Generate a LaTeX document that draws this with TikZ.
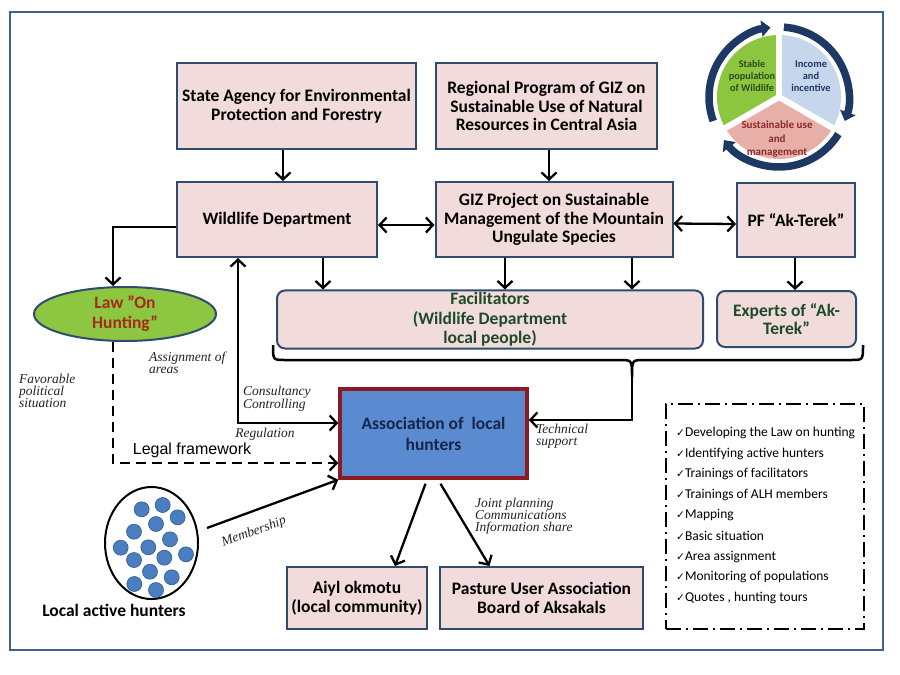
\documentclass[tikz,border=0pt]{standalone}
\usepackage{fontspec}
\newfontfamily\calfont{Carlito}
\newfontfamily\arialfont{Liberation Sans}
\newfontfamily\dvfont{DejaVu Sans}
\newfontfamily\handfont{Liberation Serif}
\usetikzlibrary{arrows.meta,shapes.geometric}
\definecolor{boxfill}{HTML}{F2DCDB}
\definecolor{boxline}{HTML}{2F4B70}
\definecolor{framecol}{HTML}{3F6189}
\definecolor{alhfill}{HTML}{5A8AD0}
\definecolor{alhline}{HTML}{8B1A22}
\definecolor{alhtext}{HTML}{16264A}
\definecolor{lawgreen}{HTML}{8DC641}
\definecolor{lawred}{HTML}{A52A1E}
\definecolor{facgreen}{HTML}{1E4A2C}
\definecolor{navy}{HTML}{1C3863}
\definecolor{cycgreen}{HTML}{8CC63F}
\definecolor{cycblue}{HTML}{C6D6EC}
\definecolor{cycpink}{HTML}{E8AFA8}
\definecolor{cycgtext}{HTML}{2B4A1B}
\definecolor{cycbtext}{HTML}{1F3864}
\definecolor{cycptext}{HTML}{8B2A2A}
\definecolor{dotblue}{HTML}{4A7EC0}
\definecolor{dotline}{HTML}{2E5A8E}
\definecolor{handgray}{HTML}{222222}
\newcommand\mytick{{\dvfont\fontsize{10.5}{10.5}\selectfont ✓}}
\begin{document}
\begin{tikzpicture}[x=1pt,y=-1pt,
  box/.style={draw=boxline,fill=boxfill,line width=2pt,align=center,
    font=\calfont\bfseries\fontsize{17.5}{18.5}\selectfont,inner sep=2pt},
  rbox/.style={box,rounded corners=8pt,text=facgreen},
  arr/.style={line width=2.3pt,-{Straight Barb[length=7pt,width=15pt]}},
  darr/.style={line width=2.3pt,{Straight Barb[length=7pt,width=15pt]}-{Straight Barb[length=7pt,width=15pt]}},
  hand/.style={font=\handfont\itshape\fontsize{13.5}{12}\selectfont,text=handgray,align=left,inner sep=0pt},
  item/.style={anchor=west,font=\calfont\fontsize{13.5}{14}\selectfont,inner sep=0pt},
  ring/.style={navy,line width=7.5pt,-{Triangle[length=9pt,width=16pt]}},
  dot/.style={circle,fill=dotblue,draw=dotline,line width=0.6pt,minimum size=15pt,inner sep=0pt}
]
\useasboundingbox (0,0) rectangle (900,675);
\fill[white] (0,0) rectangle (900,675);
\node[draw=framecol,line width=2pt,minimum width=873pt,minimum height=638pt] (frame) at (446.5,331) {};

% boxes
\node[box,minimum width=239pt,minimum height=86pt] (sa) at (296.5,106) {State Agency for Environmental\\Protection and Forestry};
\node[box,minimum width=221pt,minimum height=86pt] (rp) at (546.5,106) {Regional Program of GIZ on\\Sustainable Use of Natural\\Resources in Central Asia};
\node[box,minimum width=200pt,minimum height=75pt] (wd) at (277,219.5) {Wildlife Department};
\node[box,minimum width=237pt,minimum height=75pt] (giz) at (554,219.5) {GIZ Project on Sustainable\\Management of the Mountain\\Ungulate Species};
\node[box,minimum width=118pt,minimum height=74pt] (pf) at (796,220) {PF “Ak-Terek”};
\node[rbox,minimum width=426pt,minimum height=57pt,font=\calfont\bfseries\fontsize{17.5}{19.5}\selectfont] (fac) at (490,319.5) {Facilitators\\(Wildlife Department\\local people)};
\node[rbox,minimum width=139pt,minimum height=56pt] (exp) at (786.5,319) {Experts of “Ak-\\Terek”};
\node[box,draw=alhline,fill=alhfill,line width=3.5pt,text=alhtext,minimum width=187pt,minimum height=89pt,font=\calfont\bfseries\fontsize{17.5}{21}\selectfont] (alh) at (433.5,433.5) {Association of\ \ local\\hunters};
\node[ellipse,draw=boxline,fill=lawgreen,line width=2pt,minimum width=182pt,minimum height=54pt,align=center,text=lawred,inner sep=0pt,
  font=\calfont\bfseries\fontsize{17.5}{20}\selectfont] (law) at (125,314) {Law ”On\\Hunting”};
\node[ellipse,draw,line width=2pt,minimum width=93pt,minimum height=112pt] (hunt) at (151.5,543) {};
\node[box,minimum width=140pt,minimum height=62pt] (ao) at (357,598) {Aiyl okmotu\\(local community)};
\node[box,minimum width=203pt,minimum height=62pt] (pua) at (541.5,598) {Pasture User Association\\Board of Aksakals};
\node[font=\calfont\bfseries\fontsize{17.5}{18}\selectfont,inner sep=0pt] (lah) at (114,610) {Local active hunters};

% hunters dots
\foreach \px/\py [count=\i] in {141.7/509.3,162.7/505,177.7/517.3,156/524,134/531.7,170/539.3,120.7/547.7,148.3/547.3,186/554.3,134/560,164.3/557.7,150/571.7,171.7/577.3,134.3/584,156/590}
  \node[dot] (d\i) at (\px,\py) {};

% helper x positions
\coordinate (xa) at (283,0);
\coordinate (xb) at (549,0);
\coordinate (xf1) at (323,0);
\coordinate (xf2) at (505,0);
\coordinate (xf3) at (632,0);
\coordinate (xp) at (795,0);
\coordinate (xl) at (113,0);
\coordinate (xc) at (238,0);
\coordinate (bt) at (632,377);
\coordinate (ms) at (207,528);

% connectors
\draw[arr] (sa.south -| xa) -- (wd.north -| xa);
\draw[arr] (rp.south -| xb) -- (giz.north -| xb);
\draw[darr] ([yshift=-5.5pt]wd.east) -- ([yshift=-5.5pt]giz.west);
\draw[darr] ([yshift=-4pt]giz.east) -- ([yshift=-4pt]pf.west);
\draw[arr] (pf.south -| xp) -- (exp.north -| xp);
\draw[arr] (wd.south -| xf1) -- (fac.north -| xf1);
\draw[arr] (giz.south -| xf2) -- (fac.north -| xf2);
\draw[arr] (giz.south -| xf3) -- (fac.north -| xf3);
\draw[arr] ([yshift=-7.5pt]wd.west) -| (law.north -| xl);
\draw[arr,dash pattern=on 10pt off 6pt] (law.south -| xl) |- ([yshift=-29.5pt]alh.west);
\draw[darr] (wd.south -| xc) |- ([yshift=10.5pt]alh.west);
\draw[line width=2.5pt] (273,345) .. controls (273,360) .. (285,360) -- (620,360) .. controls (632,360) .. (bt) .. controls (632,360) .. (644,360) -- (851,360) .. controls (863,360) .. (863,345);
\draw[arr] (bt) |- ([yshift=13.5pt]alh.east);
\draw[arr] (ms) -- (alh.south west);
\draw[arr] ([xshift=-8pt,yshift=-4pt]alh.south) -- ([xshift=38pt]ao.north);
\draw[arr] ([xshift=7pt,yshift=-4pt]alh.south) -- ([xshift=-52pt]pua.north);

% handwritten labels
\node[hand,anchor=north west] (lfav) at (19,374) {Favorable\\political\\situation};
\node[hand,anchor=north west] (lass) at (149,352) {Assignment of\\areas};
\node[hand,anchor=north west] (lcon) at (243,386) {Consultancy\\Controlling};
\node[hand] (lreg) at (265,434) {Regulation};
\node[font=\arialfont\fontsize{16}{16}\selectfont,inner sep=0pt] (llegal) at (192,450) {Legal framework};
\node[hand,anchor=north west] (ltech) at (536,424) {Technical\\support};
\node[hand,anchor=north west] (ljoint) at (475,498) {Joint planning\\Communications\\Information share};
\node[hand,rotate=20] (lmem) at (254,532) {Membership};

% checklist
\node[draw,line width=2.5pt,dash pattern=on 15pt off 5pt on 2pt off 5pt,minimum width=198pt,minimum height=225pt] (chk) at (765,516.5) {};
\foreach \t [count=\i] in {Developing the Law on hunting,Identifying active hunters,Trainings of facilitators,Trainings of ALH members,Mapping,Basic situation,Area assignment,Monitoring of populations,{Quotes , hunting tours}}
  \node[item] (it\i) at (676,{433+20.6*(\i-1)}) {\mytick\t};

% cycle
\begin{scope}[shift={(779,97)},y=1pt]
  \fill[cycgreen] (0,0) -- (90:62pt) arc[start angle=90,end angle=210,radius=62pt] -- cycle;
  \fill[cycblue] (0,0) -- (-30:62pt) arc[start angle=-30,end angle=90,radius=62pt] -- cycle;
  \fill[cycpink] (0,0) -- (210:62pt) arc[start angle=210,end angle=330,radius=62pt] -- cycle;
  \draw[white,line width=6pt] (0,0) -- (90:64pt);
  \draw[white,line width=6pt] (0,0) -- (210:64pt);
  \draw[white,line width=6pt] (0,0) -- (330:64pt);
  \draw[ring] (200:70pt) arc[start angle=200,end angle=97,radius=70pt];
  \draw[ring] (86:70pt) arc[start angle=86,end angle=-20,radius=70pt];
  \draw[ring] (-32:70pt) arc[start angle=-32,end angle=-142,radius=70pt];
  \node[align=center,text=cycgtext,font=\calfont\bfseries\fontsize{10.2}{11.8}\selectfont] (cg) at (-27,21) {Stable\\population\\of Wildlife};
  \node[align=center,text=cycbtext,font=\calfont\bfseries\fontsize{10.4}{11.8}\selectfont] (cb) at (32,21) {Income\\and\\incentive};
  \node[align=center,text=cycptext,font=\calfont\bfseries\fontsize{11}{12.5}\selectfont] (cp) at (-2,-42) {Sustainable use\\[2pt]and\\management};
\end{scope}
\end{tikzpicture}
\end{document}
